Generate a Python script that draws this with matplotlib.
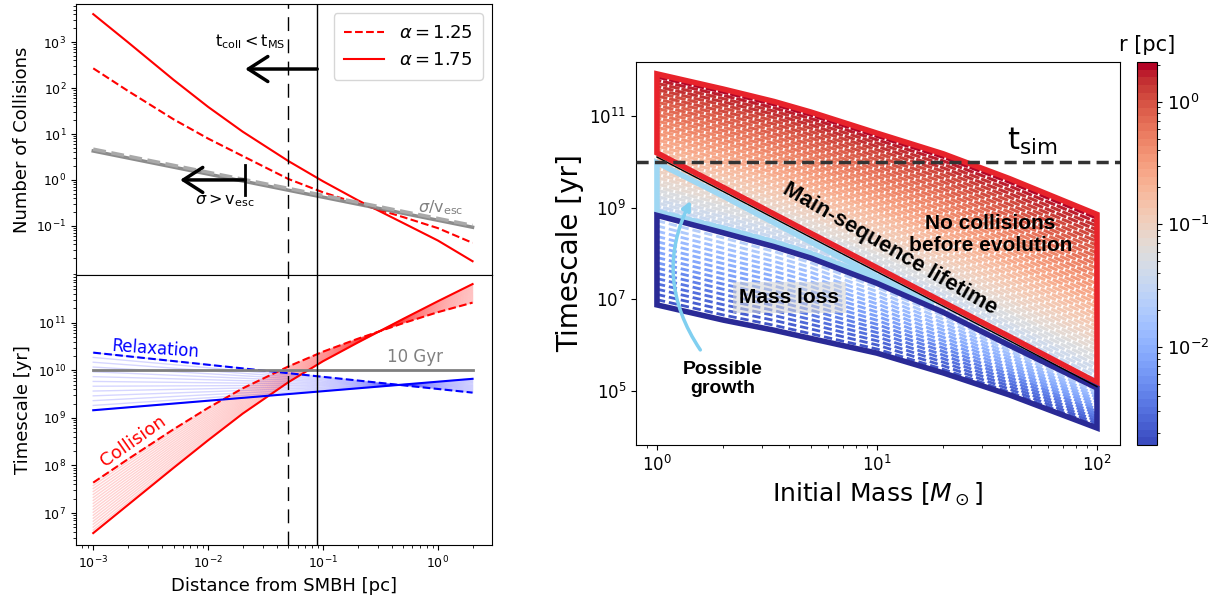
import numpy as np
import matplotlib
matplotlib.use("Agg")
import matplotlib.pyplot as plt
from matplotlib.colors import LogNorm
from matplotlib.cm import ScalarMappable
from matplotlib.patches import FancyArrowPatch
from matplotlib.ticker import NullLocator

# ---------------- left panels: profiles vs distance from the SMBH ----------------
r_pc = np.array([1e-3, 2e-3, 5e-3, 1e-2, 2e-2, 5e-2, 0.1, 0.2, 0.5, 1.0, 2.0])

# log10 number of collisions
ncoll_a125 = np.array([2.43, 1.94, 1.32, 0.90, 0.52, 0.02, -0.27, -0.51, -0.81, -1.05, -1.37])
ncoll_a175 = np.array([3.61, 3.00, 2.18, 1.59, 1.05, 0.41, -0.03, -0.44, -0.94, -1.32, -1.77])
sig_r = np.array([1e-3, 2.0])
sig_vesc_a125 = np.array([0.67, -0.99])
sig_vesc_a175 = np.array([0.63, -1.03])

# log10 timescales [yr]
tcoll_a125 = np.array([7.64, 8.13, 8.76, 9.21, 9.62, 10.08, 10.39, 10.66, 10.99, 11.22, 11.42])
tcoll_a175 = np.array([6.58, 7.17, 7.95, 8.53, 9.09, 9.75, 10.19, 10.58, 11.08, 11.45, 11.81])
trelax_a125 = np.array([10.37, 9.53])
trelax_a175 = np.array([9.16, 9.82])
t_10gyr = 1e10

r_ncoll1_a125 = 0.05
r_ncoll1_a175 = 0.089

# ---------------- right panel: timescales vs initial mass ----------------
mass = np.array([1, 2, 3.4, 5, 10, 20, 40, 100])
log_tcoll_rmax = np.array([11.91, 11.58, 11.31, 11.08, 10.62, 10.17, 9.63, 8.85])
log_nocoll_bot = np.array([10.19, 9.44, 8.86, 8.44, 7.69, 6.94, 6.19, 5.19])
log_tms = np.array([10.10, 9.35, 8.77, 8.35, 7.60, 6.85, 6.10, 5.10])
log_loss_top = np.array([8.83, 8.45, 8.15, 7.90, 7.35, 6.72, 6.00, 5.07])
log_tcoll_rmin = np.array([6.88, 6.55, 6.33, 6.15, 5.83, 5.40, 4.92, 4.20])

growth_mass = np.array([1, 2, 3.4, 5, 10, 18])
log_growth_top = np.array([9.98, 9.25, 8.67, 8.25, 7.50, 6.88])
log_growth_bot = np.array([8.91, 8.55, 8.25, 8.00, 7.45, 6.88])

t_sim = 1e10
r_min, r_max = 1.6e-3, 2.1
n_colors = 50

c_red = "#e8232b"
c_navy = "#2a2a96"
c_sky = "#9fd7f3"

fig = plt.figure(figsize=(12.22, 6.01), dpi=100)

ax1 = fig.add_axes([0.0622, 0.5424, 0.3404, 0.4509])
ax2 = fig.add_axes([0.0622, 0.0932, 0.3404, 0.4492], sharex=ax1)
ax3 = fig.add_axes([0.5205, 0.2596, 0.3961, 0.6373])
cax = fig.add_axes([0.9304, 0.2596, 0.0164, 0.6373])

# ---- number of collisions
ax1.plot(r_pc, 10**ncoll_a125, color="red", ls="--", lw=1.5, label=r"$\alpha = 1.25$")
ax1.plot(r_pc, 10**ncoll_a175, color="red", ls="-", lw=1.5, label=r"$\alpha = 1.75$")
ax1.plot(sig_r, 10**sig_vesc_a175, color="gray", lw=2.5, alpha=0.9)
ax1.plot(sig_r, 10**sig_vesc_a125, color="darkgray", ls="--", lw=2.5)
ax1.set_xscale("log")
ax1.set_yscale("log")
ax1.set_xlim(10**-3.15, 10**0.47)
ax1.set_ylim(10**-2.07, 10**3.83)
ax1.set_yticks([1e-1, 1, 1e1, 1e2, 1e3])
ax1.set_ylabel("Number of Collisions", fontsize=13)
ax1.tick_params(axis="x", which="both", bottom=False, labelbottom=False)
ax1.tick_params(axis="y", labelsize=9)
ax1.legend(loc="upper right", fontsize=13, handlelength=2.2, borderpad=0.6)

ax1.annotate("", xy=(0.021, 260), xytext=(r_ncoll1_a175, 260),
             arrowprops=dict(arrowstyle="->,head_length=0.7,head_width=0.45",
                             lw=2.5, color="k", shrinkA=0, shrinkB=0, mutation_scale=20))
ax1.text(0.023, 1000, r"$\mathrm{t_{coll} < t_{MS}}$", fontsize=11.5, ha="center", va="center")
ax1.annotate("", xy=(0.0057, 1.0), xytext=(0.021, 1.0),
             arrowprops=dict(arrowstyle="->,head_length=0.7,head_width=0.45",
                             lw=2.5, color="k", shrinkA=0, shrinkB=0, mutation_scale=20))
ax1.plot([0.021, 0.021], [10**-0.33, 10**0.33], color="k", lw=2)
ax1.text(0.014, 0.36, r"$\sigma > \mathrm{v_{esc}}$", fontsize=11.5, ha="center", va="center")
ax1.text(1.05, 0.245, r"$\sigma/\mathrm{v_{esc}}$", fontsize=11.5, color="gray", ha="center", va="center")

# ---- timescales
for s in np.linspace(0, 1, 18):
    ax2.plot(r_pc, 10**((1 - s) * tcoll_a175 + s * tcoll_a125), color="red", alpha=0.18, lw=1)
for s in np.linspace(0, 1, 13):
    ax2.plot(sig_r, 10**((1 - s) * trelax_a175 + s * trelax_a125), color="blue", alpha=0.16, lw=1)
ax2.plot(r_pc, 10**tcoll_a125, color="red", ls="--", lw=1.5)
ax2.plot(r_pc, 10**tcoll_a175, color="red", ls="-", lw=1.5)
ax2.plot(sig_r, 10**trelax_a125, color="blue", ls="--", lw=1.5)
ax2.plot(sig_r, 10**trelax_a175, color="blue", ls="-", lw=1.5)
ax2.plot(sig_r, [t_10gyr, t_10gyr], color="gray", lw=2)
ax2.set_yscale("log")
ax2.set_ylim(10**6.33, 10**12.0)
ax2.set_yticks([1e7, 1e8, 1e9, 1e10, 1e11])
ax2.set_ylabel("Timescale [yr]", fontsize=13)
ax2.set_xlabel("Distance from SMBH [pc]", fontsize=13)
ax2.tick_params(labelsize=9)
ax2.text(0.0035, 2.8e10, "Relaxation", color="blue", fontsize=12, rotation=-4,
         ha="center", va="center")
ax2.text(0.00224, 3.2e8, "Collision", color="red", fontsize=13, rotation=35,
         ha="center", va="center")
ax2.text(0.63, 1.9e10, "10 Gyr", color="gray", fontsize=12, ha="center", va="center")

for ax in (ax1, ax2):
    v1 = ax.axvline(r_ncoll1_a125, color="k", lw=1)
    v1.set_dashes([10, 6])
    ax.axvline(r_ncoll1_a175, color="k", lw=1)

# ---- right panel
cmap = matplotlib.colormaps["coolwarm"].resampled(n_colors)
span_m1 = log_tcoll_rmax[0] - log_tcoll_rmin[0]

# upper family between the mass-loss boundary and the largest radius,
# every other curve shifted half a dash so the gaps form a brick pattern
for i, s in enumerate(np.linspace(0, 1, 46)):
    logt = log_loss_top + s * (log_tcoll_rmax - log_loss_top)
    w = (logt[0] - log_tcoll_rmin[0]) / span_m1
    ax3.plot(mass, 10**logt, color=cmap(w), lw=2.2, zorder=1,
             ls=((i % 2) * 2.05, (3.5, 0.6)))
# lower family inside the mass-loss region
for s in np.linspace(0, 1, 18):
    logt = log_tcoll_rmin + s * (log_loss_top - log_tcoll_rmin)
    w = (logt[0] - log_tcoll_rmin[0]) / span_m1
    ax3.plot(mass, 10**logt, color=cmap(w), lw=2.0, zorder=1, ls=(0, (3.0, 1.4)))

ax3.fill(np.r_[mass, mass[::-1]], 10**np.r_[log_tcoll_rmax, log_nocoll_bot[::-1]],
         fc="none", ec=c_red, lw=4, joinstyle="miter", zorder=3)
ax3.fill(np.r_[growth_mass, growth_mass[::-1]], 10**np.r_[log_growth_top, log_growth_bot[::-1]],
         fc="none", ec=c_sky, lw=4, joinstyle="miter", zorder=3)
ax3.fill(np.r_[mass, mass[::-1]], 10**np.r_[log_loss_top, log_tcoll_rmin[::-1]],
         fc="none", ec=c_navy, lw=4, joinstyle="miter", zorder=3)
ax3.plot(mass, 10**log_tms, color="k", lw=1, zorder=4)
tl = ax3.axhline(t_sim, color="#333333", lw=2.5, zorder=6)
tl.set_dashes([3.5, 1.8])

ax3.set_xscale("log")
ax3.set_yscale("log")
ax3.set_xlim(10**-0.095, 10**2.105)
ax3.set_ylim(10**3.83, 10**12.17)
ax3.set_yticks([1e5, 1e7, 1e9, 1e11])
ax3.yaxis.set_minor_locator(NullLocator())
ax3.tick_params(labelsize=12)
ax3.set_ylabel("Timescale [yr]", fontsize=20)
ax3.set_xlabel(r"Initial Mass [$M_\odot$]", fontsize=18)

bold = dict(family="Liberation Sans", fontweight="bold", color="k", zorder=5)
ax3.text(11.5, 10**8.09, "Main-sequence lifetime", fontsize=16, rotation=-30,
         rotation_mode="anchor", ha="center", va="center", **bold)
ax3.text(32.8, 10**8.42, "No collisions\nbefore evolution", fontsize=15,
         ha="center", va="center", linespacing=1.2, **bold)
ax3.text(4.0, 10**7.04, "Mass loss", fontsize=15, ha="center", va="center",
         bbox=dict(boxstyle="square,pad=0.3", fc="lightgray", ec="none", alpha=0.55), **bold)
ax3.text(2.0, 10**5.26, "Possible\ngrowth", fontsize=14, ha="center", va="center",
         linespacing=1.15, **bold)
ax3.text(51, 10**10.09, r"$\mathrm{t}_{\mathrm{sim}}$", fontsize=22, ha="center", va="bottom")

arrow = FancyArrowPatch((1.60, 10**5.85), (1.445, 10**9.2),
                        connectionstyle="arc3,rad=-0.3", arrowstyle="-|>",
                        mutation_scale=13, color="#80cff0", lw=2.5, zorder=5)
ax3.add_patch(arrow)

sm = ScalarMappable(norm=LogNorm(r_min, r_max), cmap=cmap)
cbar = fig.colorbar(sm, cax=cax)
cbar.minorticks_on()
cbar.ax.tick_params(labelsize=13)
cbar.ax.set_title("r [pc]", fontsize=15, pad=8)

fig.savefig("out.png", dpi=100)
